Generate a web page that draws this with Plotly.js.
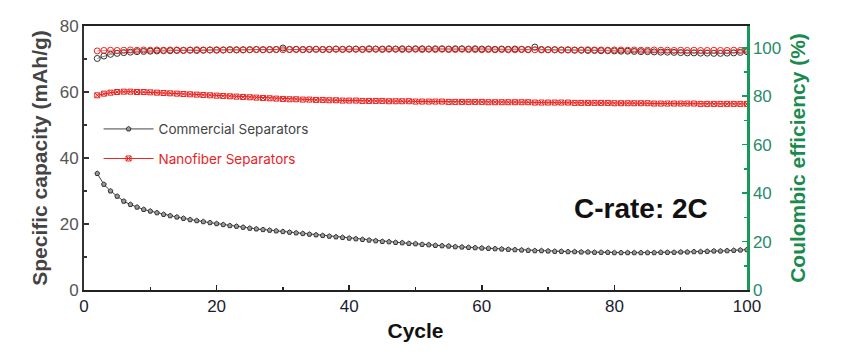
<!DOCTYPE html>
<html>
<head>
<meta charset="utf-8">
<script src="https://cdn.plot.ly/plotly-3.0.1.min.js"></script>
<style>html,body{margin:0;padding:0;background:#fff;}#chart{width:847px;height:364px;}</style>
</head>
<body>
<div id="chart"></div>
<script>
const cycles = [2,3,4,5,6,7,8,9,10,
11,12,13,14,15,16,17,18,19,20,
21,22,23,24,25,26,27,28,29,30,
31,32,33,34,35,36,37,38,39,40,
41,42,43,44,45,46,47,48,49,50,
51,52,53,54,55,56,57,58,59,60,
61,62,63,64,65,66,67,68,69,70,
71,72,73,74,75,76,77,78,79,80,
81,82,83,84,85,86,87,88,89,90,
91,92,93,94,95,96,97,98,99,100];

const capCommercial = [35.3,32.0,30.0,28.4,26.9,25.9,25.1,24.4,23.9,
23.4,22.9,22.5,22.1,21.7,21.3,21.0,20.7,20.4,20.1,
19.8,19.5,19.3,19.0,18.7,18.5,18.3,18.1,17.9,17.7,
17.5,17.3,17.1,16.9,16.7,16.5,16.3,16.1,15.9,15.7,
15.5,15.3,15.1,14.9,14.7,14.6,14.4,14.3,14.1,14.0,
13.8,13.7,13.5,13.4,13.3,13.1,13.0,12.9,12.8,12.7,
12.6,12.5,12.4,12.3,12.2,12.1,12.0,11.9,11.9,11.8,
11.7,11.7,11.6,11.6,11.5,11.5,11.4,11.4,11.4,11.3,
11.3,11.3,11.3,11.3,11.3,11.3,11.4,11.4,11.4,11.5,
11.5,11.6,11.6,11.7,11.8,11.8,11.9,12.0,12.1,12.2];

const capNanofiber = [59.0,59.5,59.8,60.0,60.1,60.1,60.0,60.0,59.9,
59.8,59.7,59.6,59.5,59.4,59.3,59.2,59.1,59.0,58.9,
58.8,58.7,58.6,58.5,58.4,58.3,58.2,58.1,58.0,57.9,
57.8,57.8,57.7,57.7,57.6,57.6,57.5,57.5,57.4,57.4,
57.4,57.3,57.3,57.3,57.3,57.2,57.2,57.2,57.2,57.1,
57.1,57.1,57.1,57.1,57.0,57.0,57.0,57.0,57.0,57.0,
56.9,56.9,56.9,56.9,56.9,56.9,56.9,56.8,56.8,56.8,
56.8,56.8,56.8,56.7,56.7,56.7,56.7,56.7,56.7,56.6,
56.6,56.6,56.6,56.6,56.6,56.5,56.5,56.5,56.5,56.5,
56.5,56.5,56.4,56.4,56.4,56.4,56.4,56.4,56.4,56.4];

const ceCommercial = [95.6,96.6,97.3,97.7,98.0,98.2,98.4,98.5,98.6,
98.7,98.8,98.8,98.9,98.9,99.0,98.9,99.0,99.1,99.0,
99.1,99.2,99.1,99.2,99.2,99.3,99.2,99.3,99.3,99.9,
99.3,99.4,99.3,99.4,99.4,99.3,99.4,99.5,99.4,99.5,
99.5,99.4,99.6,99.5,99.5,99.6,99.5,99.6,99.5,99.6,
99.6,99.5,99.6,99.6,99.5,99.6,99.6,99.5,99.6,99.5,
99.5,99.4,99.5,99.4,99.5,99.4,99.3,100.3,99.3,99.2,
99.2,99.1,99.1,99.0,99.0,98.9,98.9,98.8,98.8,98.7,
98.6,98.6,98.5,98.4,98.4,98.3,98.2,98.2,98.1,98.0,
97.9,97.9,97.8,97.8,97.7,97.7,97.8,97.9,98.1,98.4];

const ceNanofiber = [98.7,98.9,99.0,98.9,99.0,99.1,99.0,99.1,99.0,
99.1,99.0,99.1,99.1,99.0,99.1,99.2,99.1,99.1,99.2,
99.1,99.2,99.2,99.1,99.2,99.3,99.2,99.2,99.3,99.2,
99.3,99.3,99.2,99.3,99.4,99.3,99.3,99.4,99.3,99.4,
99.4,99.3,99.4,99.4,99.3,99.4,99.4,99.3,99.4,99.4,
99.3,99.4,99.3,99.4,99.3,99.3,99.4,99.3,99.3,99.2,
99.3,99.2,99.3,99.2,99.2,99.3,99.2,99.2,99.1,99.2,
99.2,99.1,99.2,99.1,99.1,99.2,99.1,99.1,99.0,99.1,
99.1,99.0,99.1,99.0,99.0,99.1,99.0,99.0,98.9,99.0,
98.9,99.0,98.9,98.9,99.0,98.9,98.9,99.0,98.9,99.0];

const seriesNames = ['Commercial Separators', 'Nanofiber Separators'];
const axisFont = 'Liberation Sans, Arial, sans-serif';
const BLACK = '#333333';
const RED = '#e8231f';
const GREEN = '#17995a';

const traces = [
  {
    x: cycles, y: capCommercial, yaxis: 'y', type: 'scatter', mode: 'lines+markers',
    name: '<span style="color:#444">' + seriesNames[0] + '</span>',
    legendgroup: 'a',
    line: {color: '#444', width: 1},
    marker: {symbol: 'pentagon', size: 5, color: '#9a9a9a', line: {color: '#333', width: 1}}
  },
  {
    x: cycles, y: capNanofiber, yaxis: 'y', type: 'scatter', mode: 'lines+markers',
    name: '<span style="color:' + RED + '">' + seriesNames[1] + '</span>',
    legendgroup: 'b',
    line: {color: RED, width: 1},
    marker: {symbol: 'square-x-open', size: 5, color: RED, line: {width: 1}}
  },
  {
    x: cycles, y: ceCommercial, yaxis: 'y2', type: 'scatter', mode: 'lines+markers',
    showlegend: false,
    line: {color: BLACK, width: 0.6},
    marker: {symbol: 'circle-open', size: 6, color: BLACK, line: {width: 1}}
  },
  {
    x: cycles, y: ceNanofiber, yaxis: 'y2', type: 'scatter', mode: 'lines+markers',
    showlegend: false,
    line: {color: RED, width: 0.6},
    marker: {symbol: 'circle-open', size: 6, color: RED, line: {width: 1}}
  }
];

const layout = {
  width: 847, height: 364,
  margin: {l: 84, r: 100, t: 26, b: 74},
  paper_bgcolor: '#fff', plot_bgcolor: '#fff',
  showlegend: true,
  legend: {
    x: 0.022, y: 0.668, xanchor: 'left', yanchor: 'top',
    bgcolor: 'rgba(0,0,0,0)', traceorder: 'grouped', tracegroupgap: 9,
    itemwidth: 50,
    font: {family: 'Inter, Noto Sans, sans-serif', size: 13.5, color: '#444'}
  },
  xaxis: {
    range: [0, 100], dtick: 20, showgrid: false, zeroline: false,
    showline: true, linecolor: '#222', linewidth: 2, mirror: true,
    ticks: 'inside', ticklen: 5, tickwidth: 1.5, tickcolor: '#222',
    minor: {ticks: 'inside', ticklen: 3, dtick: 10, tickcolor: '#222', tickwidth: 1.5},
    tickfont: {family: axisFont, size: 17, color: '#1c1c30'},
    title: {text: 'Cycle', standoff: 8, font: {family: axisFont, size: 21, color: '#111', weight: 'bold'}}
  },
  yaxis: {
    range: [0, 80], dtick: 20, showgrid: false, zeroline: false,
    showline: true, linecolor: '#333', linewidth: 2,
    ticks: 'inside', ticklen: 5, tickwidth: 1.5, tickcolor: '#333',
    minor: {ticks: 'inside', ticklen: 3, dtick: 10, tickcolor: '#333', tickwidth: 1.5},
    tickfont: {family: axisFont, size: 17, color: '#555'},
    title: {text: 'Specific capacity (mAh/g)', standoff: 6, font: {family: axisFont, size: 21, color: '#444', weight: 'bold'}}
  },
  yaxis2: {
    overlaying: 'y', side: 'right', anchor: 'x',
    range: [0, 109], dtick: 20, showgrid: false, zeroline: false,
    showline: true, linecolor: GREEN, linewidth: 2.5,
    ticks: 'inside', ticklen: 5, tickwidth: 1.5, tickcolor: GREEN,
    minor: {ticks: 'inside', ticklen: 3, dtick: 10, tickcolor: GREEN, tickwidth: 1.5},
    tickfont: {family: axisFont, size: 17, color: '#2a8a6e'},
    title: {text: 'Coulombic efficiency (%)', standoff: 10, font: {family: axisFont, size: 21, color: '#1a8a4e', weight: 'bold'}}
  },
  annotations: [{
    text: 'C-rate: 2C', xref: 'paper', yref: 'paper',
    x: 0.84, y: 0.31, xanchor: 'center', yanchor: 'middle', showarrow: false,
    font: {family: axisFont, size: 28, color: '#111', weight: 'bold'}
  }]
};

Plotly.newPlot('chart', traces, layout, {displayModeBar: false, staticPlot: true});
</script>
</body>
</html>
